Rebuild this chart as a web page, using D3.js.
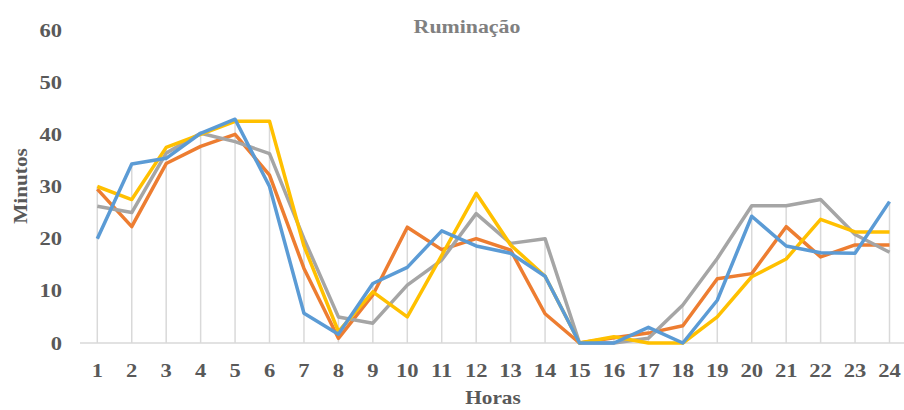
<!DOCTYPE html>
<html lang="pt">
<head>
    <meta charset="UTF-8">
    <title>Ruminação</title>
    <script src="https://d3js.org/d3.v7.min.js"></script>
    <style>
        body { margin: 0; background: #fff; }
        svg text { font-family: "Liberation Serif", "Times New Roman", serif; font-weight: bold; }
        .tick-label { fill: #595959; font-size: 18.5px; }
        .axis-title { fill: #595959; font-size: 18.5px; }
        .chart-title { fill: #808080; font-size: 19px; }
        .drop { stroke: #d9d9d9; stroke-width: 1.5px; }
        .baseline { stroke: #d9d9d9; stroke-width: 1.5px; }
        .serie { fill: none; stroke-width: 3.5px; stroke-linejoin: round; }
    </style>
</head>
<body>
<div id="chart"></div>

<script type="text/javascript">
    // horas do dia
    var hours = d3.range(1, 25);
    var yTicks = [0, 10, 20, 30, 40, 50, 60];

    // minutos de ruminação por hora
    var orange = [29.5, 22.3, 34.4, 37.7, 40.0, 32.2, 14.3, 0.9, 9.2, 22.2, 17.9, 20.0, 17.8, 5.6, 0, 1.0, 1.9, 3.3, 12.3, 13.3, 22.3, 16.5, 18.8, 18.8];
    var gray   = [26.2, 25.0, 36.4, 40.2, 38.6, 36.3, 20.0, 5.0, 3.8, 11.1, 15.9, 24.8, 19.1, 20.0, 0, 0, 0.9, 7.3, 16.2, 26.3, 26.3, 27.5, 20.8, 17.4];
    var yellow = [30.0, 27.5, 37.5, 40.0, 42.5, 42.5, 18.6, 2.2, 9.8, 5.0, 16.8, 28.7, 18.8, 12.8, 0, 1.2, 0, 0, 5.0, 12.7, 16.1, 23.7, 21.3, 21.3];
    var blue   = [20.0, 34.3, 35.4, 40.2, 42.9, 30.0, 5.7, 1.7, 11.4, 14.5, 21.5, 18.6, 17.2, 12.8, 0, 0, 3.0, 0, 8.2, 24.3, 18.6, 17.3, 17.2, 27.1];

    var series = [
        {values: orange, color: '#ED7D31'},
        {values: gray, color: '#A5A5A5'},
        {values: yellow, color: '#FFC000'},
        {values: blue, color: '#5B9BD5'}
    ];

    var width = 904,
        height = 410;

    var svg = d3.select('div#chart').append('svg')
        .attr('width', width)
        .attr('height', height);

    var x = d3.scalePoint()
        .domain(hours)
        .range([97.3, 889.5]);

    var y = d3.scaleLinear()
        .domain([0, 60])
        .range([343, 30]);

    // linhas de queda (drop lines) do maior valor até o eixo
    svg.append('g').selectAll('line')
        .data(hours)
        .enter().append('line')
        .attr('class', 'drop')
        .attr('x1', function (d) { return x(d); })
        .attr('x2', function (d) { return x(d); })
        .attr('y1', y(0))
        .attr('y2', function (d, i) {
            return y(d3.max(series, function (s) { return s.values[i]; }));
        });

    // eixo horizontal
    svg.append('line').attr('class', 'baseline')
        .attr('x1', 80).attr('x2', width)
        .attr('y1', y(0)).attr('y2', y(0));

    // rótulos do eixo y
    svg.append('g').selectAll('text')
        .data(yTicks)
        .enter().append('text')
        .attr('class', 'tick-label')
        .attr('text-anchor', 'end')
        .attr('transform', function (d) { return 'translate(62,' + (y(d) + 6.5) + ') scale(1.22,1)'; })
        .text(function (d) { return d; });

    // rótulos do eixo x
    svg.append('g').selectAll('text')
        .data(hours)
        .enter().append('text')
        .attr('class', 'tick-label')
        .attr('text-anchor', 'middle')
        .attr('transform', function (d) { return 'translate(' + x(d) + ',377) scale(1.22,1)'; })
        .text(function (d) { return d; });

    var line = d3.line()
        .x(function (d, i) { return x(hours[i]); })
        .y(function (d) { return y(d); });

    svg.append('g').selectAll('path')
        .data(series)
        .enter().append('path')
        .attr('class', 'serie')
        .attr('stroke', function (d) { return d.color; })
        .attr('d', function (d) { return line(d.values); });

    // títulos
    svg.append('text').attr('class', 'chart-title')
        .attr('text-anchor', 'middle')
        .attr('transform', 'translate(467,33) scale(1.15,1)')
        .text('Ruminação');

    svg.append('text').attr('class', 'axis-title')
        .attr('text-anchor', 'middle')
        .attr('transform', 'translate(493,404) scale(1.15,1)')
        .text('Horas');

    svg.append('text').attr('class', 'axis-title')
        .attr('text-anchor', 'middle')
        .attr('transform', 'translate(27,186) rotate(-90) scale(1.15,1)')
        .text('Minutos');
</script>
</body>
</html>
